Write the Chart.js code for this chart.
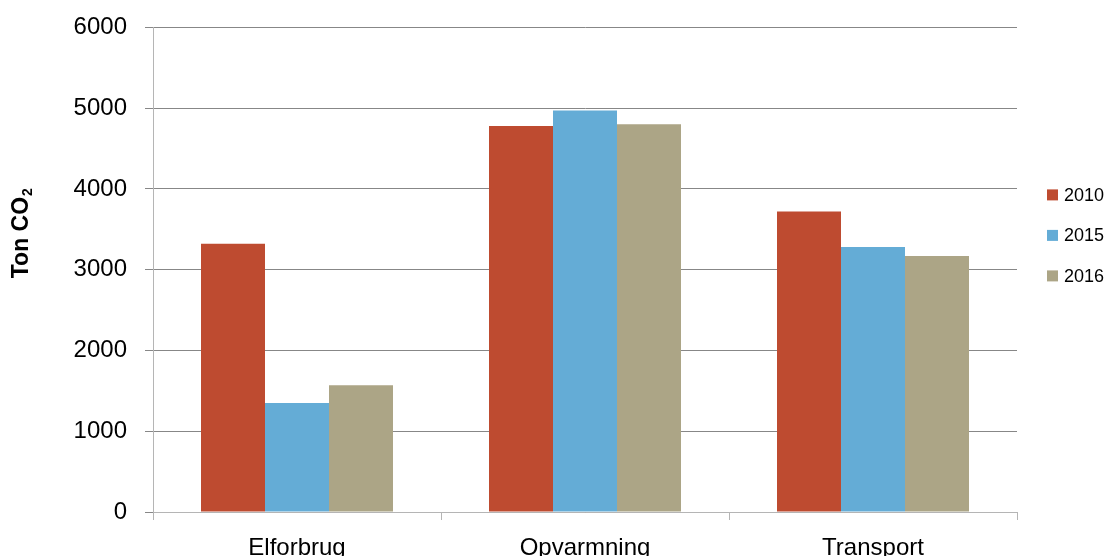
<!DOCTYPE html>
<html>
<head>
<meta charset="utf-8">
<script src="https://cdn.jsdelivr.net/npm/chart.js@4/dist/chart.umd.min.js"></script>
<style>
html,body{margin:0;padding:0;background:#fff;overflow:hidden;width:1107px;height:556px;}
#wrap{position:absolute;left:0;top:-5px;width:1107px;height:585px;}
</style>
</head>
<body>
<div id="wrap"><canvas id="c" width="1107" height="585"></canvas></div>
<script>
const categories = ['Elforbrug', 'Opvarmning', 'Transport'];
const seriesLabels = ['2010', '2015', '2016'];
const values2010 = [3320, 4780, 3720];
const values2015 = [1350, 4970, 3280];
const values2016 = [1570, 4800, 3170];
const yTicks = [0, 1000, 2000, 3000, 4000, 5000, 6000];
const colors = ['#BE4B30', '#64ACD6', '#ACA586'];
const FONT = '"Liberation Sans", Arial, sans-serif';

const titlePlugin = {
  id: 'yTitle',
  afterDraw(chart) {
    const ctx = chart.ctx;
    const a = chart.chartArea;
    ctx.save();
    ctx.translate(22, a.top + (a.bottom - a.top) / 2 - 36);
    ctx.rotate(-Math.PI / 2);
    ctx.fillStyle = '#000';
    ctx.textBaseline = 'middle';
    ctx.font = 'bold 23px ' + FONT;
    const t1 = 'Ton CO';
    const w1 = ctx.measureText(t1).width;
    ctx.font = 'bold 14px ' + FONT;
    const w2 = ctx.measureText('2').width;
    const x0 = -(w1 + w2) / 2;
    ctx.font = 'bold 23px ' + FONT;
    ctx.textAlign = 'left';
    ctx.fillText(t1, x0, 0);
    ctx.font = 'bold 14px ' + FONT;
    ctx.fillText('2', x0 + w1 + 1, 6);
    ctx.restore();
  }
};

const legendPlugin = {
  id: 'sideLegend',
  afterDraw(chart) {
    const ctx = chart.ctx;
    const a = chart.chartArea;
    const cy = a.top + 208;
    ctx.save();
    ctx.font = '18px ' + FONT;
    ctx.textBaseline = 'middle';
    ctx.textAlign = 'left';
    chart.data.datasets.forEach((ds, i) => {
      const y = cy + (i - 1) * 40.5;
      ctx.fillStyle = ds.backgroundColor;
      ctx.fillRect(a.right + 30, y - 5.5, 11, 11);
      ctx.fillStyle = '#000';
      ctx.fillText(ds.label, a.right + 47, y + 1);
    });
    ctx.restore();
  }
};

new Chart(document.getElementById('c'), {
  type: 'bar',
  data: {
    labels: categories,
    datasets: [
      { label: seriesLabels[0], data: values2010, backgroundColor: colors[0] },
      { label: seriesLabels[1], data: values2015, backgroundColor: colors[1] },
      { label: seriesLabels[2], data: values2016, backgroundColor: colors[2] }
    ]
  },
  options: {
    responsive: false,
    animation: false,
    devicePixelRatio: 1,
    layout: { padding: { left: 0, right: 90, top: 22, bottom: 0 } },
    datasets: { bar: { categoryPercentage: 2 / 3, barPercentage: 1.0, borderWidth: 0 } },
    plugins: { legend: { display: false }, tooltip: { enabled: false } },
    scales: {
      x: {
        grid: { display: true, drawOnChartArea: false, color: '#b5b5b5', tickLength: 8, offset: true },
        border: { display: true, color: '#b5b5b5', width: 1 },
        ticks: { color: '#000', font: { family: FONT, size: 24 }, padding: 14, maxRotation: 0 },
        afterFit(scale) { scale.height = 585 - 517; }
      },
      y: {
        min: 0, max: 6000,
        afterBuildTicks(scale) { scale.ticks = yTicks.map(v => ({ value: v })); },
        grid: { color: '#878787', tickLength: 8, lineWidth: 1 },
        border: { display: true, color: '#b5b5b5', width: 1 },
        ticks: { color: '#000', font: { family: FONT, size: 24 }, padding: 18,
                 callback: (v) => String(v) },
        afterFit(scale) { scale.width = 153; }
      }
    }
  },
  plugins: [titlePlugin, legendPlugin]
});
</script>
</body>
</html>
